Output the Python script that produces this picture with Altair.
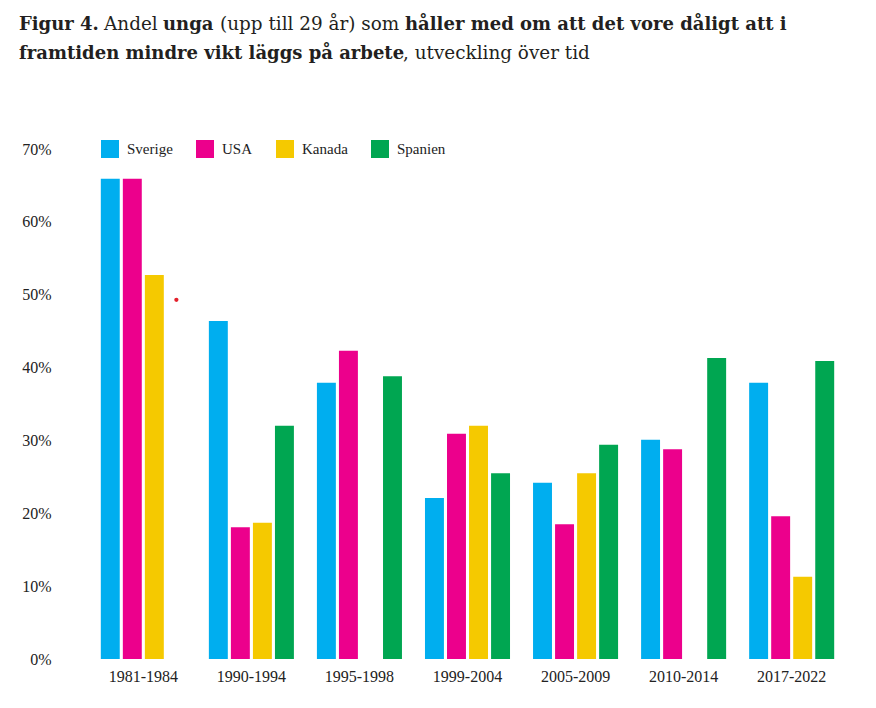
import altair as alt
import pandas as pd

periods = ["1981-1984", "1990-1994", "1995-1998", "1999-2004", "2005-2009", "2010-2014", "2017-2022"]
series = ["Sverige", "USA", "Kanada", "Spanien"]
colors = ["#00AEEF", "#EC008C", "#F5C900", "#00A651"]

sverige = [65.9, 46.4, 37.9, 22.1, 24.2, 30.1, 37.9]
usa = [65.9, 18.1, 42.3, 30.9, 18.5, 28.8, 19.6]
kanada = [52.7, 18.7, None, 32.0, 25.5, None, 11.3]
spanien = [None, 32.0, 38.8, 25.5, 29.4, 41.3, 40.9]

# stray red marker in the original picture
dot_period = ["1981-1984"]
dot_series = ["Spanien"]
dot_value = [49.3]

rows = []
for name, vals in zip(series, [sverige, usa, kanada, spanien]):
    for p, v in zip(periods, vals):
        if v is not None:
            rows.append({"period": p, "land": name, "value": v})
df = pd.DataFrame(rows)
dot_df = pd.DataFrame({"period": dot_period, "land": dot_series, "value": dot_value})

W, H = 755, 510
X0, Y0 = 90, 149  # plot origin on the page (for title placement)

x_enc = alt.X("period:N", sort=periods,
              scale=alt.Scale(domain=periods, paddingInner=0.213, paddingOuter=0.1),
              axis=alt.Axis(title=None, labelAngle=0, domain=False, ticks=False,
                            labelPadding=9, labelFont="Liberation Serif",
                            labelFontSize=16, labelColor="#222222"))
xo_enc = alt.XOffset("land:N", sort=series,
                     scale=alt.Scale(domain=series, paddingInner=0.14, paddingOuter=0))
y_enc = alt.Y("value:Q",
              scale=alt.Scale(domain=[0, 70], nice=False),
              axis=alt.Axis(title=None, values=[0, 10, 20, 30, 40, 50, 60, 70],
                            labelExpr="datum.value + '%'", grid=False, domain=False,
                            ticks=False, labelPadding=39, labelFont="Liberation Serif",
                            labelFontSize=16, labelColor="#222222"))

bars = alt.Chart(df).mark_bar().encode(
    x=x_enc,
    xOffset=xo_enc,
    y=y_enc,
    color=alt.Color("land:N", sort=series,
                    scale=alt.Scale(domain=series, range=colors),
                    legend=alt.Legend(title=None, orient="none", legendX=11, legendY=-9,
                                      direction="horizontal", columns=4,
                                      symbolType="square", symbolSize=324,
                                      symbolStrokeWidth=0, labelOffset=8,
                                      columnPadding=23, padding=0,
                                      labelFont="Liberation Serif", labelFontSize=15,
                                      labelColor="#222222")),
)

dot = alt.Chart(dot_df).mark_circle(color="#E3202B", opacity=1, size=18).encode(
    x=alt.X("period:N", sort=periods),
    xOffset=alt.XOffset("land:N", sort=series),
    y=alt.Y("value:Q"),
)

BOLD, NORMAL = 18, 18.4
title_segments = [
    ("Figur 4.", "bold", 19, 30),
    ("Andel", "normal", 104, 30),
    ("unga", "bold", 163, 30),
    ("(upp till 29 år) som", "normal", 220, 30),
    ("håller med om att det vore dåligt att i", "bold", 405, 30),
    ("framtiden mindre vikt läggs på arbete", "bold", 19, 59),
    (", utveckling över tid", "normal", 403, 59),
]
one = pd.DataFrame({"k": [0]})
title_layers = []
for txt, weight, px, py in title_segments:
    size = BOLD if weight == "bold" else NORMAL
    title_layers.append(
        alt.Chart(one).mark_text(text=txt, align="left", baseline="alphabetic",
                                 font="DejaVu Serif", fontWeight=weight, fontSize=size,
                                 color="#231F20").encode(
            x=alt.value(px - X0), y=alt.value(py - Y0))
    )

chart = alt.layer(bars, dot, *title_layers).properties(
    width=W, height=H,
    autosize=alt.AutoSizeParams(type="none"),
    padding={"left": X0 - 8, "top": Y0 - 8, "right": 20, "bottom": 40},
).configure_view(stroke="transparent", strokeWidth=0)

chart.save("out.html", embed_options={"renderer": "svg", "actions": False})
